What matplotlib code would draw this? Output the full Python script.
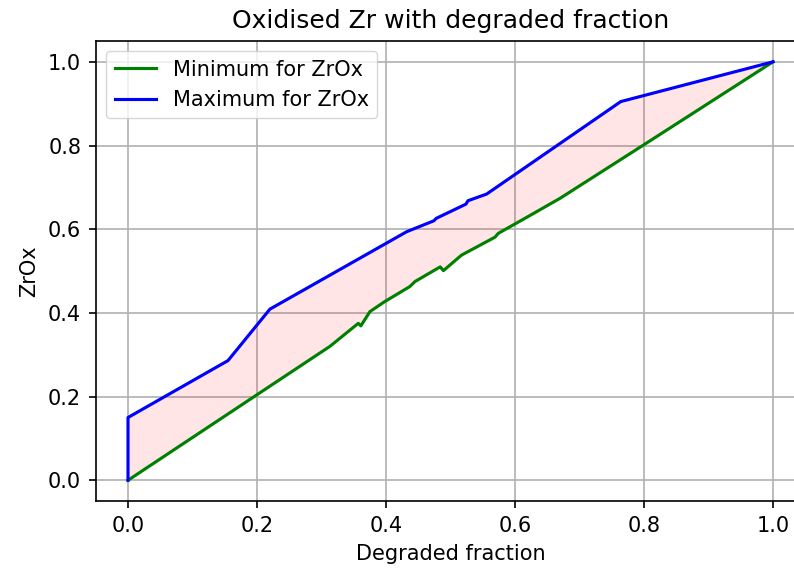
import matplotlib
matplotlib.use("Agg")
import matplotlib.pyplot as plt
import numpy as np

# Data
min_x = [0.0, 0.313, 0.357, 0.361, 0.375, 0.398, 0.437, 0.445, 0.484, 0.489,
         0.517, 0.569, 0.574, 0.620, 0.670, 0.800, 1.0]
min_y = [0.0, 0.320, 0.375, 0.369, 0.403, 0.427, 0.463, 0.475, 0.510, 0.501,
         0.538, 0.581, 0.590, 0.630, 0.674, 0.802, 1.0]

max_x = [0.0, 0.0, 0.155, 0.220, 0.432, 0.474, 0.478, 0.524, 0.527, 0.556, 0.764, 1.0]
max_y = [0.0, 0.150, 0.286, 0.409, 0.594, 0.620, 0.626, 0.660, 0.668, 0.684, 0.905, 1.0]

xticks = [0.0, 0.2, 0.4, 0.6, 0.8, 1.0]
yticks = [0.0, 0.2, 0.4, 0.6, 0.8, 1.0]

S = 1.5  # overall scale of the original figure

fig = plt.figure(figsize=(7.94, 5.68), dpi=100)
ax = fig.add_axes([0.1206, 0.1176, 0.8936, 0.8104])
ax.patch.set_visible(False)

poly_x = list(max_x) + list(min_x[::-1])
poly_y = list(max_y) + list(min_y[::-1])
ax.fill(poly_x, poly_y, color='red', alpha=0.1, linewidth=0)

ax.plot(min_x, min_y, color='green', linewidth=1.5 * S, label='Minimum for ZrOx')
ax.plot(max_x, max_y, color='blue', linewidth=1.5 * S, label='Maximum for ZrOx')

ax.set_xlim(-0.05, 1.05)
ax.set_ylim(-0.05, 1.05)
ax.set_xticks(xticks)
ax.set_yticks(yticks)
ax.set_xticklabels([f"{t:.1f}" for t in xticks])
ax.set_yticklabels([f"{t:.1f}" for t in yticks])
ax.tick_params(labelsize=10 * S, width=0.8 * S, length=3.5 * S, pad=3.5 * S)
for s in ax.spines.values():
    s.set_linewidth(0.8 * S)
ax.spines['right'].set_visible(False)
ax.grid(True, color='#b0b0b0', linewidth=0.8 * S)
ax.set_axisbelow(True)

ax.set_title("Oxidised Zr with degraded fraction", fontsize=12 * S, pad=6 * S)
ax.set_xlabel("Degraded fraction", fontsize=10 * S, labelpad=4 * S)
ax.set_ylabel("ZrOx", fontsize=10 * S, labelpad=4 * S)
ax.legend(loc='upper left', fontsize=10 * S, borderaxespad=0.5, handlelength=2.0)

fig.savefig("out.png", dpi=100)
